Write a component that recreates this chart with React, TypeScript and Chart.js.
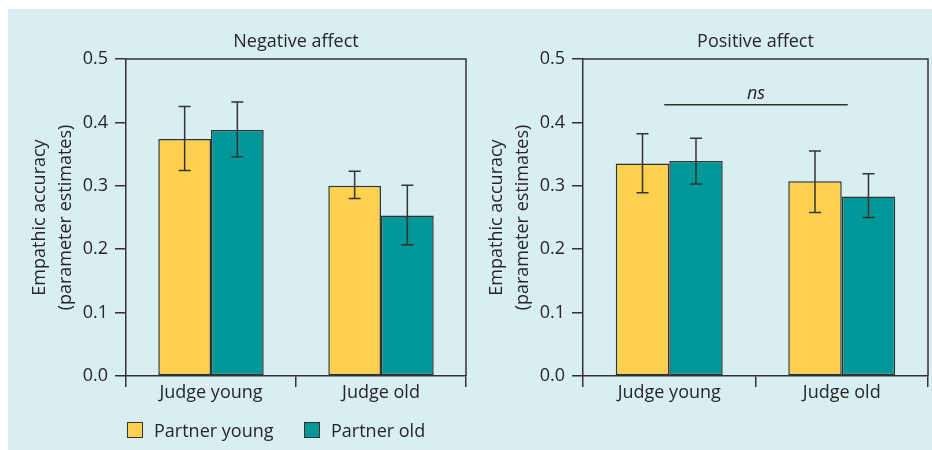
import React, { useEffect, useRef } from "react";
import { Chart, registerables } from "chart.js";

Chart.register(...registerables);

// ---- data ----
const categories = ["Judge young", "Judge old"];
const seriesNames = ["Partner young", "Partner old"];
const yTickValues = [0, 0.1, 0.2, 0.3, 0.4, 0.5];

const negTitle = "Negative affect";
const negPartnerYoung = [0.374, 0.3];
const negPartnerOld = [0.388, 0.253];
const negYoungLow = [0.324, 0.28];
const negYoungHigh = [0.425, 0.323];
const negOldLow = [0.346, 0.207];
const negOldHigh = [0.432, 0.301];

const posTitle = "Positive affect";
const posPartnerYoung = [0.335, 0.307];
const posPartnerOld = [0.339, 0.283];
const posYoungLow = [0.289, 0.258];
const posYoungHigh = [0.382, 0.355];
const posOldLow = [0.303, 0.25];
const posOldHigh = [0.375, 0.319];

const nsLabel = "ns";
const nsLevel = 0.428;

const yTitle = ["Empathic accuracy", "(parameter estimates)"];

// ---- style ----
const FONT = "'Open Sans', 'Noto Sans', sans-serif";
const FS = 18;
const TEXT = "#262626";
const LINE = "#333333";
const YELLOW = "#FED050";
const TEAL = "#009798";
const PANEL = "#D8EEF0";

type ChartSpec = {
  title: string;
  young: number[];
  old: number[];
  youngLow: number[];
  youngHigh: number[];
  oldLow: number[];
  oldHigh: number[];
  ns?: { label: string; level: number };
};

function makeChart(canvas: HTMLCanvasElement, spec: ChartSpec) {
  const lows = [spec.youngLow, spec.oldLow];
  const highs = [spec.youngHigh, spec.oldHigh];

  const decor = {
    id: "decor",
    afterDatasetsDraw(chart: any) {
      const { ctx, chartArea } = chart;
      const yScale = chart.scales.y;
      const xScale = chart.scales.x;
      ctx.save();
      // error bars
      ctx.strokeStyle = LINE;
      ctx.lineWidth = 1.5;
      for (let d = 0; d < 2; d++) {
        const meta = chart.getDatasetMeta(d);
        meta.data.forEach((el: any, j: number) => {
          const x = el.x;
          const yl = yScale.getPixelForValue(lows[d][j]);
          const yh = yScale.getPixelForValue(highs[d][j]);
          ctx.beginPath();
          ctx.moveTo(x, yl);
          ctx.lineTo(x, yh);
          ctx.moveTo(x - 6, yl);
          ctx.lineTo(x + 6, yl);
          ctx.moveTo(x - 6, yh);
          ctx.lineTo(x + 6, yh);
          ctx.stroke();
        });
      }
      // frame top/right
      ctx.beginPath();
      ctx.moveTo(chartArea.left, chartArea.top);
      ctx.lineTo(chartArea.right, chartArea.top);
      ctx.lineTo(chartArea.right, chartArea.bottom);
      ctx.stroke();
      // title
      ctx.fillStyle = TEXT;
      ctx.font = `${FS}px ${FONT}`;
      ctx.textAlign = "center";
      ctx.textBaseline = "alphabetic";
      ctx.fillText(spec.title, (chartArea.left + chartArea.right) / 2, 47);
      // ns annotation
      if (spec.ns) {
        const y = yScale.getPixelForValue(spec.ns.level);
        const x0 = xScale.getPixelForValue(0) - 5;
        const x1 = xScale.getPixelForValue(1) + 6;
        ctx.beginPath();
        ctx.moveTo(x0, y);
        ctx.lineTo(x1, y);
        ctx.stroke();
        ctx.font = `italic ${FS}px ${FONT}`;
        ctx.fillText(spec.ns.label, (x0 + x1) / 2, y - 6);
      }
      ctx.restore();
    },
  };

  return new Chart(canvas, {
    type: "bar",
    data: {
      labels: categories,
      datasets: [
        {
          label: seriesNames[0],
          data: spec.young,
          backgroundColor: YELLOW,
          borderColor: LINE,
          borderWidth: 1.5,
          borderSkipped: false,
        },
        {
          label: seriesNames[1],
          data: spec.old,
          backgroundColor: TEAL,
          borderColor: LINE,
          borderWidth: 1.5,
          borderSkipped: false,
        },
      ],
    },
    options: {
      responsive: false,
      animation: false,
      events: [],
      layout: { padding: { top: 59, left: 0, right: 4, bottom: 0 } },
      datasets: { bar: { categoryPercentage: 0.62, barPercentage: 1.0 } },
      plugins: {
        legend: { display: false },
        tooltip: { enabled: false },
        title: { display: false },
      },
      scales: {
        x: {
          afterFit: (s: any) => {
            s.height = 74;
          },
          grid: {
            offset: true,
            drawOnChartArea: false,
            drawTicks: true,
            tickLength: 11,
            color: LINE,
            lineWidth: 1.5,
          },
          border: { display: true, color: LINE, width: 1.5 },
          ticks: {
            color: TEXT,
            font: { family: FONT, size: FS },
            padding: -5,
          },
        },
        y: {
          min: 0,
          max: 0.5,
          afterFit: (s: any) => {
            s.width = 126;
          },
          afterBuildTicks: (s: any) => {
            s.ticks = yTickValues.map((v) => ({ value: v }));
          },
          grid: {
            drawOnChartArea: false,
            drawTicks: true,
            tickLength: 11,
            color: LINE,
            lineWidth: 1.5,
          },
          border: { display: true, color: LINE, width: 1.5 },
          ticks: {
            color: TEXT,
            font: { family: FONT, size: FS },
            padding: 7,
            callback: (v: any) => Number(v).toFixed(1),
          },
          title: {
            display: true,
            text: yTitle,
            color: TEXT,
            font: { family: FONT, size: FS, lineHeight: 26 / FS },
            padding: { top: 27, bottom: 0 },
          },
        },
      },
    },
    plugins: [decor],
  } as any);
}

function Panel(props: { spec: ChartSpec; left: number; width: number }) {
  const ref = useRef<HTMLCanvasElement>(null);
  useEffect(() => {
    if (!ref.current) return;
    const chart = makeChart(ref.current, props.spec);
    return () => chart.destroy();
  }, []);
  return (
    <canvas
      ref={ref}
      width={props.width}
      height={450}
      style={{ position: "absolute", left: props.left, top: 0, width: props.width, height: 450 }}
    />
  );
}

const legendItems = [
  { label: seriesNames[0], color: YELLOW, boxLeft: 127, textLeft: 154 },
  { label: seriesNames[1], color: TEAL, boxLeft: 304, textLeft: 331 },
];

export default function App() {
  const negSpec: ChartSpec = {
    title: negTitle,
    young: negPartnerYoung,
    old: negPartnerOld,
    youngLow: negYoungLow,
    youngHigh: negYoungHigh,
    oldLow: negOldLow,
    oldHigh: negOldHigh,
  };
  const posSpec: ChartSpec = {
    title: posTitle,
    young: posPartnerYoung,
    old: posPartnerOld,
    youngLow: posYoungLow,
    youngHigh: posYoungHigh,
    oldLow: posOldLow,
    oldHigh: posOldHigh,
    ns: { label: nsLabel, level: nsLevel },
  };
  return (
    <div style={{ position: "fixed", left: 0, top: 0, width: 932, height: 450, background: "#ffffff", overflow: "hidden" }}>
      <div style={{ position: "absolute", left: 8, top: 9, width: 924, height: 441, background: PANEL }} />
      <Panel spec={negSpec} left={0} width={470} />
      <Panel spec={posSpec} left={457} width={475} />
      {legendItems.map((it) => (
        <React.Fragment key={it.label}>
          <div
            style={{
              position: "absolute",
              left: it.boxLeft,
              top: 422,
              width: 16,
              height: 16,
              boxSizing: "border-box",
              border: `1.5px solid ${LINE}`,
              background: it.color,
            }}
          />
          <div
            style={{
              position: "absolute",
              left: it.textLeft,
              top: 418,
              height: 24,
              lineHeight: "24px",
              fontFamily: FONT,
              fontSize: FS,
              color: TEXT,
              whiteSpace: "nowrap",
            }}
          >
            {it.label}
          </div>
        </React.Fragment>
      ))}
    </div>
  );
}
